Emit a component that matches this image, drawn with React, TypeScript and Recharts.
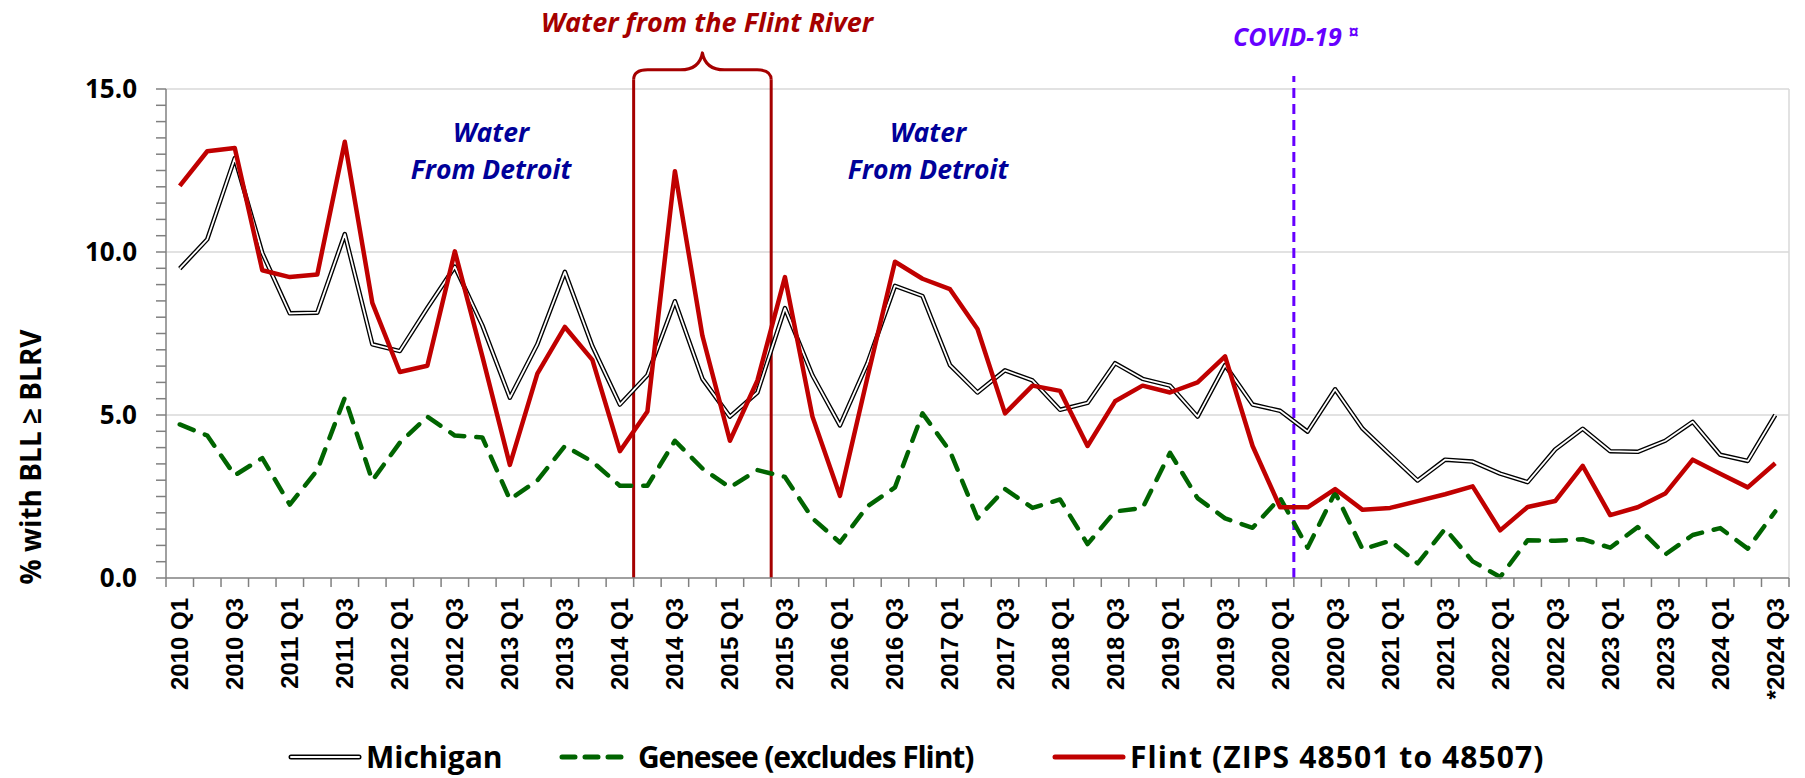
import { LineChart, Line, XAxis, YAxis, ReferenceLine } from "recharts";

// quarterly % of tested children with BLL >= BLRV
const quarters = [
  "2010 Q1", "2010 Q2", "2010 Q3", "2010 Q4",
  "2011 Q1", "2011 Q2", "2011 Q3", "2011 Q4",
  "2012 Q1", "2012 Q2", "2012 Q3", "2012 Q4",
  "2013 Q1", "2013 Q2", "2013 Q3", "2013 Q4",
  "2014 Q1", "2014 Q2", "2014 Q3", "2014 Q4",
  "2015 Q1", "2015 Q2", "2015 Q3", "2015 Q4",
  "2016 Q1", "2016 Q2", "2016 Q3", "2016 Q4",
  "2017 Q1", "2017 Q2", "2017 Q3", "2017 Q4",
  "2018 Q1", "2018 Q2", "2018 Q3", "2018 Q4",
  "2019 Q1", "2019 Q2", "2019 Q3", "2019 Q4",
  "2020 Q1", "2020 Q2", "2020 Q3", "2020 Q4",
  "2021 Q1", "2021 Q2", "2021 Q3", "2021 Q4",
  "2022 Q1", "2022 Q2", "2022 Q3", "2022 Q4",
  "2023 Q1", "2023 Q2", "2023 Q3", "2023 Q4",
  "2024 Q1", "2024 Q2", "*2024 Q3",
];

const michigan = [
  9.49, 10.39, 12.88, 9.97, 8.12, 8.14, 10.55, 7.17,
  6.96, 8.28, 9.55, 7.75, 5.53, 7.17, 9.39, 7.11,
  5.32, 6.22, 8.49, 6.11, 4.95, 5.69, 8.28, 6.22,
  4.68, 6.59, 8.96, 8.65, 6.53, 5.69, 6.37, 6.06,
  5.16, 5.37, 6.59, 6.11, 5.9, 4.95, 6.53, 5.32,
  5.13, 4.49, 5.79, 4.58, 3.78, 2.99, 3.63, 3.57,
  3.2, 2.94, 3.94, 4.58, 3.89, 3.87, 4.21, 4.79,
  3.78, 3.59, 5.0,
];

const genesee = [
  4.71, 4.37, 3.15, 3.68, 2.25, 3.31, 5.53, 2.99,
  4.15, 4.95, 4.37, 4.31, 2.41, 2.99, 4.05, 3.57,
  2.83, 2.83, 4.21, 3.36, 2.78, 3.31, 3.1, 1.83,
  1.09, 2.2, 2.78, 5.05, 3.89, 1.83, 2.73, 2.15,
  2.41, 1.04, 2.04, 2.15, 3.84, 2.45, 1.83, 1.54,
  2.46, 0.93, 2.62, 0.88, 1.14, 0.45, 1.51, 0.51,
  0.03, 1.16, 1.14, 1.19, 0.93, 1.56, 0.72, 1.32,
  1.53, 0.9, 2.04,
];

const flint = [
  12.03, 13.09, 13.19, 9.44, 9.23, 9.31, 13.38, 8.44,
  6.32, 6.51, 10.02, 6.8, 3.47, 6.27, 7.7, 6.69,
  3.89, 5.11, 12.48, 7.43, 4.21, 6.06, 9.23, 4.95,
  2.52, 6.16, 9.7, 9.18, 8.86, 7.64, 5.05, 5.9,
  5.74, 4.05, 5.42, 5.9, 5.69, 6.0, 6.8, 4.05,
  2.17, 2.17, 2.73, 2.09, 2.15, 2.36, 2.57, 2.81,
  1.46, 2.18, 2.36, 3.44, 1.93, 2.17, 2.59, 3.63,
  3.2, 2.78, 3.52,
];

const data = quarters.map((q, i) => ({
  idx: i,
  quarter: q,
  michigan: michigan[i],
  genesee: genesee[i],
  flint: flint[i],
}));

// tick marks sit between quarters, labels on every other quarter
const xTicks = Array.from({ length: quarters.length * 2 + 1 }, (_, i) => -0.5 + i * 0.5);
const yTicks = Array.from({ length: 31 }, (_, i) => i * 0.5);

const riverStart = 16.5; // between 2014 Q1 and Q2
const riverEnd = 21.5;
const covidAt = 40.5;

const axisGray = "#808080";
const gridGray = "#d9d9d9";
const flintRed = "#c00000";
const riverRed = "#a50000";
const green = "#006400";
const navy = "#000099";
const purple = "#6600ff";
const calibri = "'Open Sans', 'Noto Sans', sans-serif";

const XTick = (props: any) => {
  const { x, y, payload } = props;
  const v = payload.value;
  if (!Number.isInteger(v)) {
    return <line x1={x} x2={x} y1={y} y2={y + 9} stroke={axisGray} strokeWidth={1.5} />;
  }
  if (v % 2 !== 0) return <g />;
  const ty = y + 20;
  return (
    <text
      x={x}
      y={ty}
      transform={`rotate(-90 ${x} ${ty})`}
      textAnchor="end"
      dominantBaseline="central"
      fontFamily="'Liberation Sans', Arial, sans-serif"
      fontWeight={700}
      fontSize={24}
      fill="#000"
    >
      {quarters[v]}
    </text>
  );
};

const Brace = (props: any) => {
  const { x1, x2, y1 } = props;
  const xm = (x1 + x2) / 2;
  const yh = y1 - 10;
  const yp = y1 - 27;
  const r = 14;
  const d = `M${x1},${y1} Q${x1},${yh} ${x1 + r},${yh} L${xm - 22},${yh} Q${xm - 3},${yh} ${xm},${yp} Q${xm + 3},${yh} ${xm + 22},${yh} L${x2 - r},${yh} Q${x2},${yh} ${x2},${y1}`;
  return <path d={d} fill="none" stroke={riverRed} strokeWidth={3} strokeLinejoin="round" />;
};

const note = (left: number, top: number, color: string, size: number) => ({
  position: "absolute" as const,
  left,
  top,
  transform: "translate(-50%, -50%)",
  color,
  fontFamily: calibri,
  fontWeight: 700,
  fontStyle: "italic",
  fontSize: size,
  lineHeight: 1,
  whiteSpace: "nowrap" as const,
});

const legendText = {
  fontFamily: calibri,
  fontWeight: 700,
  fontSize: 30,
  color: "#000",
  lineHeight: 1,
  whiteSpace: "nowrap" as const,
};

export default function App() {
  return (
    <div style={{ position: "absolute", left: 0, top: 0, width: 1805, height: 778, background: "#fff" }}>
      <LineChart
        width={1805}
        height={778}
        data={data}
        margin={{ top: 89, right: 16, left: 66, bottom: 80 }}
      >
        <ReferenceLine y={5} stroke={gridGray} strokeWidth={1.5} />
        <ReferenceLine y={10} stroke={gridGray} strokeWidth={1.5} />
        <ReferenceLine y={15} stroke={gridGray} strokeWidth={1.5} />
        <ReferenceLine x={58.5} stroke={gridGray} strokeWidth={1.5} />
        <XAxis
          dataKey="idx"
          type="number"
          domain={[-0.5, 58.5]}
          ticks={xTicks}
          interval={0}
          allowDataOverflow
          height={120}
          tickSize={0}
          tickMargin={0}
          tickLine={false}
          tick={<XTick />}
          axisLine={{ stroke: axisGray, strokeWidth: 1.5 }}
        />
        <YAxis
          type="number"
          domain={[0, 15]}
          ticks={yTicks}
          interval={0}
          width={100}
          tickSize={10}
          tickMargin={19}
          tickFormatter={(v: number) => (v % 5 === 0 ? v.toFixed(1) : "")}
          tick={{ fontFamily: calibri, fontWeight: 700, fontSize: 26, fill: "#000" }}
          tickLine={{ stroke: axisGray, strokeWidth: 1.5 }}
          axisLine={{ stroke: axisGray, strokeWidth: 1.5 }}
        />
        <ReferenceLine
          segment={[{ x: riverStart, y: 0 }, { x: riverStart, y: 15.28 }]}
          ifOverflow="visible"
          stroke={riverRed}
          strokeWidth={3}
        />
        <ReferenceLine
          segment={[{ x: riverEnd, y: 0 }, { x: riverEnd, y: 15.28 }]}
          ifOverflow="visible"
          stroke={riverRed}
          strokeWidth={3}
        />
        <ReferenceLine
          segment={[{ x: riverStart, y: 15.28 }, { x: riverEnd, y: 15.28 }]}
          ifOverflow="visible"
          shape={Brace}
        />
        <ReferenceLine
          segment={[{ x: covidAt, y: 0 }, { x: covidAt, y: 15.4 }]}
          ifOverflow="visible"
          stroke={purple}
          strokeWidth={3}
          strokeDasharray="10 6"
        />
        <Line
          dataKey="michigan"
          stroke="#000"
          strokeWidth={4.5}
          dot={false}
          strokeLinejoin="round"
          isAnimationActive={false}
        />
        <Line
          dataKey="michigan"
          stroke="#fff"
          strokeWidth={1.8}
          dot={false}
          strokeLinejoin="round"
          isAnimationActive={false}
        />
        <Line
          dataKey="genesee"
          stroke={green}
          strokeWidth={4.5}
          strokeDasharray="15 12"
          strokeLinecap="round"
          strokeLinejoin="round"
          dot={false}
          isAnimationActive={false}
        />
        <Line
          dataKey="flint"
          stroke={flintRed}
          strokeWidth={4.5}
          strokeLinejoin="round"
          dot={false}
          isAnimationActive={false}
        />
      </LineChart>

      <div style={note(707, 21, riverRed, 27)}>Water from the Flint River</div>
      <div style={note(1296, 36, purple, 25)}>
        COVID-19 <span style={{ fontSize: 19, fontStyle: "normal", position: "relative", top: -7 }}>¤</span>
      </div>
      <div style={{ ...note(491, 151, navy, 26.5), textAlign: "center", lineHeight: "37px" }}>
        Water
        <br />
        From Detroit
      </div>
      <div style={{ ...note(928, 151, navy, 26.5), textAlign: "center", lineHeight: "37px" }}>
        Water
        <br />
        From Detroit
      </div>

      <div
        style={{
          position: "absolute",
          left: 30,
          top: 457,
          transform: "translate(-50%, -50%) rotate(-90deg)",
          fontFamily: calibri,
          fontWeight: 700,
          fontSize: 28,
          lineHeight: 1,
          whiteSpace: "nowrap",
          color: "#000",
        }}
      >
        % with BLL ≥ BLRV
      </div>

      <div style={{ position: "absolute", left: 288, top: 742, display: "flex", alignItems: "center", gap: 4 }}>
        <svg width={74} height={12}>
          <line x1={3} x2={71} y1={6} y2={6} stroke="#000" strokeWidth={5} strokeLinecap="round" />
          <line x1={3} x2={71} y1={6} y2={6} stroke="#fff" strokeWidth={2} strokeLinecap="round" />
        </svg>
        <span style={legendText}>Michigan</span>
      </div>
      <div style={{ position: "absolute", left: 558, top: 742, display: "flex", alignItems: "center", gap: 12 }}>
        <svg width={68} height={12}>
          <line x1={4} x2={66} y1={6} y2={6} stroke={green} strokeWidth={5} strokeDasharray="13 10" strokeLinecap="round" />
        </svg>
        <span style={{ ...legendText, letterSpacing: -1.1 }}>Genesee (excludes Flint)</span>
      </div>
      <div style={{ position: "absolute", left: 1052, top: 742, display: "flex", alignItems: "center", gap: 4 }}>
        <svg width={74} height={12}>
          <line x1={3} x2={71} y1={6} y2={6} stroke={flintRed} strokeWidth={5} strokeLinecap="round" />
        </svg>
        <span style={{ ...legendText, letterSpacing: 1.1 }}>Flint (ZIPS 48501 to 48507)</span>
      </div>
    </div>
  );
}
